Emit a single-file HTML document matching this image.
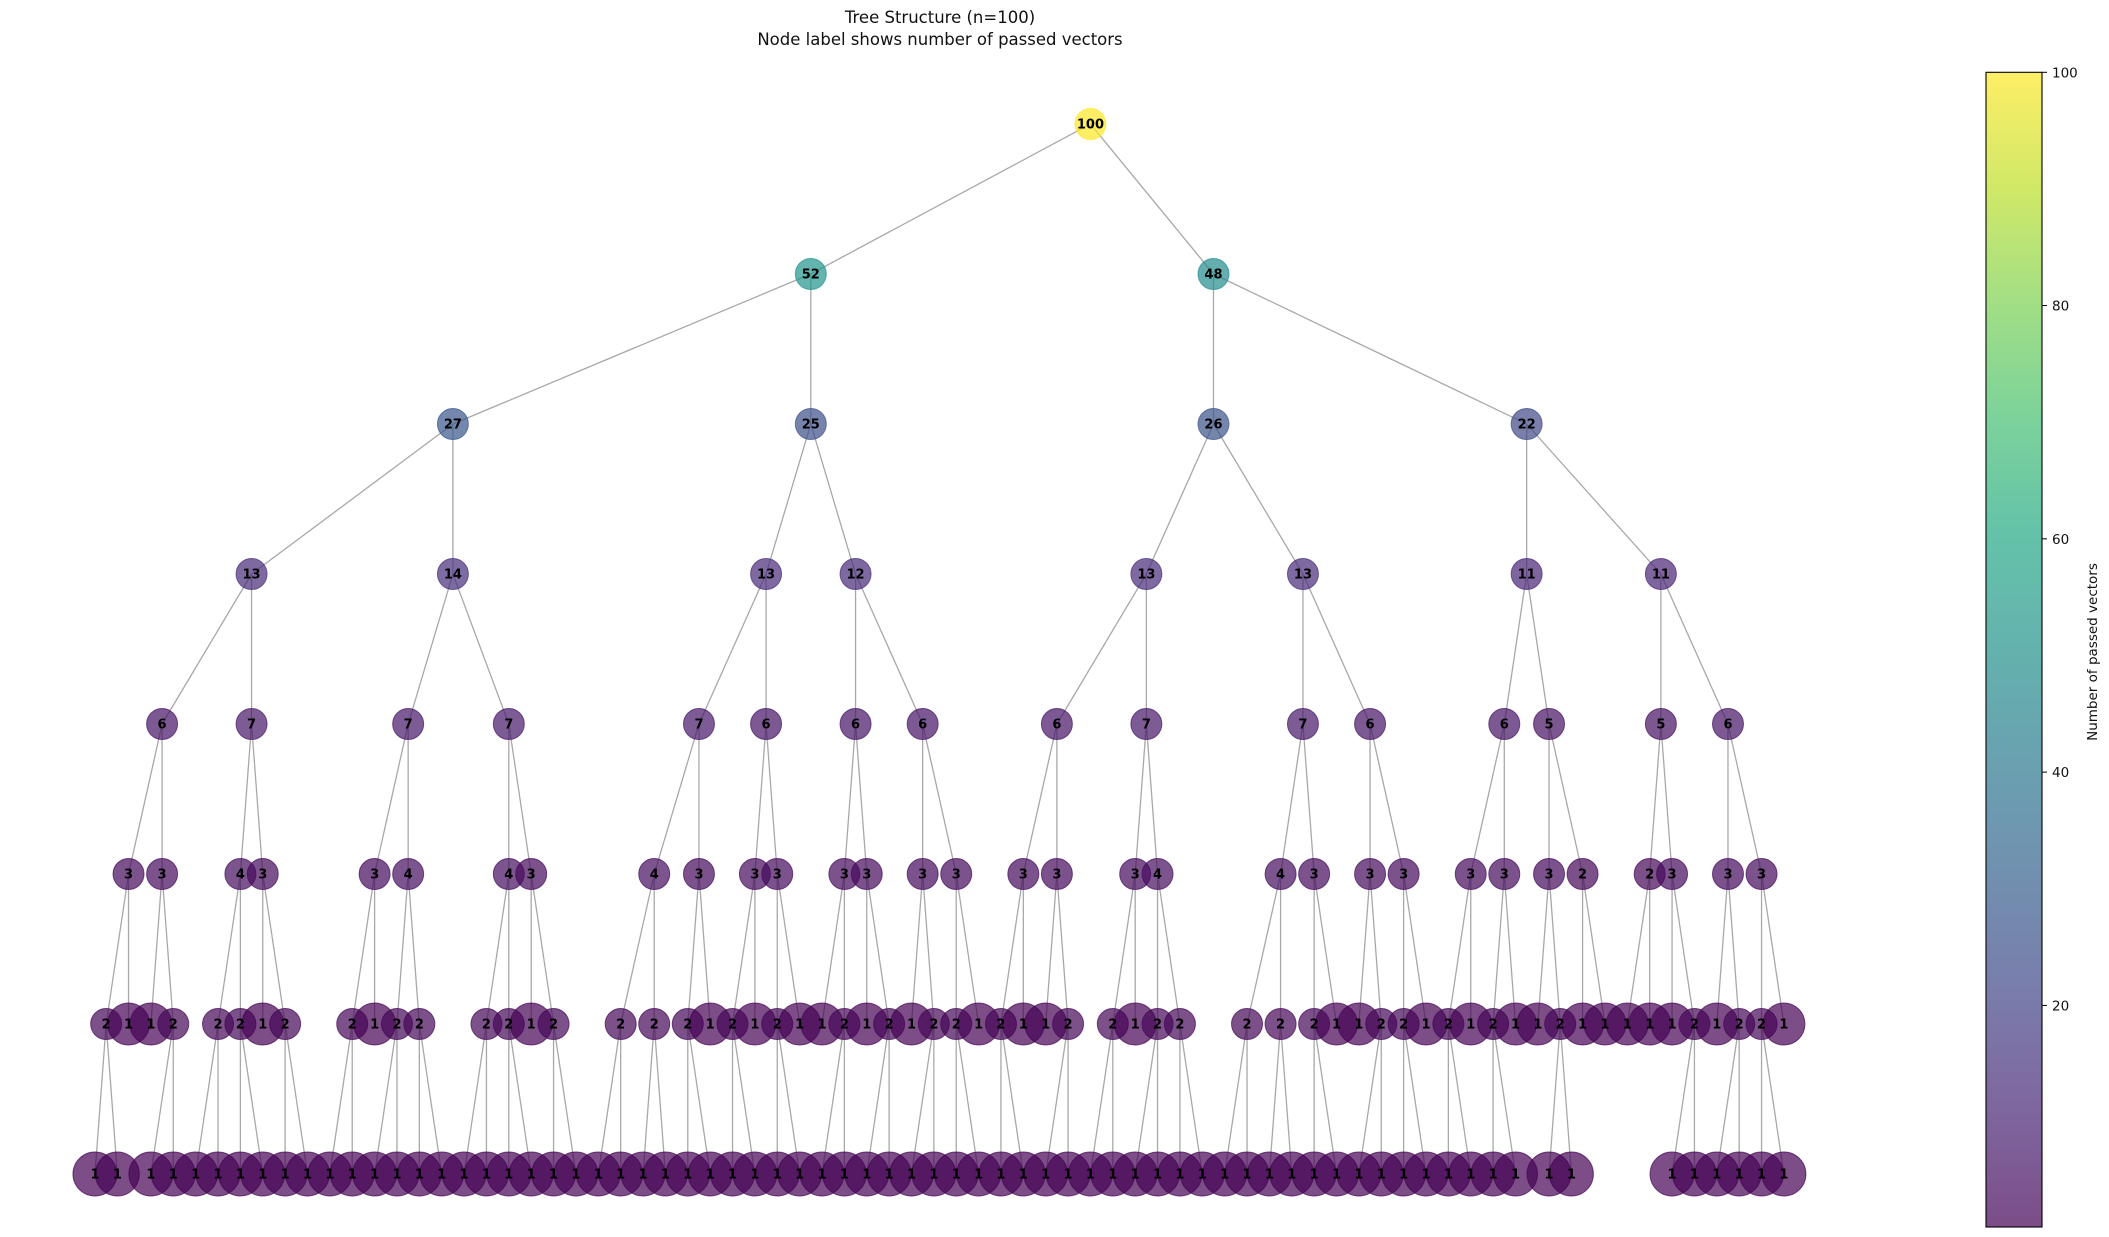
<!DOCTYPE html>
<html>
<head>
<meta charset="utf-8">
<style>
html,body{margin:0;padding:0;background:#fff;}
svg{display:block;}
text{font-family:"DejaVu Sans","Liberation Sans",sans-serif;}
</style>
</head>
<body>
<svg id="chart" width="2109" height="1237" viewBox="0 0 2109 1237" xmlns="http://www.w3.org/2000/svg">
  <defs>
    <linearGradient id="vir" x1="0" y1="1" x2="0" y2="0"></linearGradient>
  </defs>
  <text x="940" y="23" font-size="16.5" text-anchor="middle" fill="#111">Tree Structure (n=100)</text>
  <text x="940" y="45" font-size="16.5" text-anchor="middle" fill="#111">Node label shows number of passed vectors</text>
  <g id="edges"></g>
  <g id="nodes"></g>
  <g id="cbar"></g>
</svg>
<script>
// ---- data (per depth level) ----
const slots0 = [42];
const vals0 = [100];
const par0 = [-1];
const slots1 = [29.5, 47.5];
const vals1 = [52, 48];
const par1 = [0, 0];
const slots2 = [13.5, 29.5, 47.5, 61.5];
const vals2 = [27, 25, 26, 22];
const par2 = [0, 0, 1, 1];
const slots3 = [4.5, 13.5, 27.5, 31.5, 44.5, 51.5, 61.5, 67.5];
const vals3 = [13, 14, 13, 12, 13, 13, 11, 11];
const par3 = [0, 0, 1, 1, 2, 2, 3, 3];
const slots4 = [0.5, 4.5, 11.5, 16, 24.5, 27.5, 31.5, 34.5, 40.5, 44.5, 51.5, 54.5, 60.5, 62.5, 67.5, 70.5];
const vals4 = [6, 7, 7, 7, 7, 6, 6, 6, 6, 7, 7, 6, 6, 5, 5, 6];
const par4 = [0, 0, 1, 1, 2, 2, 3, 3, 4, 4, 5, 5, 6, 6, 7, 7];
const slots5 = [-1, 0.5, 4, 5, 10, 11.5, 16, 17, 22.5, 24.5, 27, 28, 31, 32, 34.5, 36, 39, 40.5, 44, 45, 50.5, 52, 54.5, 56, 59, 60.5, 62.5, 64, 67, 68, 70.5, 72];
const vals5 = [3, 3, 4, 3, 3, 4, 4, 3, 4, 3, 3, 3, 3, 3, 3, 3, 3, 3, 3, 4, 4, 3, 3, 3, 3, 3, 3, 2, 2, 3, 3, 3];
const par5 = [0,0,1,1,2,2,3,3,4,4,5,5,6,6,7,7,8,8,9,9,10,10,11,11,12,12,13,13,14,14,15,15];
const slots6 = [-2,-1, 0,1, 3,4, 5,6, 9,10, 11,12, 15,16, 17,18, 21,22.5, 24,25, 26,27, 28,29, 30,31, 32,33, 34,35, 36,37, 38,39, 40,41, 43,44, 45,46, 49,50.5, 52,53, 54,55, 56,57, 58,59, 60,61, 62,63, 64,65, 66,67, 68,69, 70,71, 72,73];
const vals6 = [2,1, 1,2, 2,2, 1,2, 2,1, 2,2, 2,2, 1,2, 2,2, 2,1, 2,1, 2,1, 1,2, 1,2, 1,2, 2,1, 2,1, 1,2, 2,1, 2,2, 2,2, 2,1, 1,2, 2,1, 2,1, 2,1, 1,2, 1,1, 1,1, 1,2, 1,2, 2,1];
const par6 = [0,0,1,1,2,2,3,3,4,4,5,5,6,6,7,7,8,8,9,9,10,10,11,11,12,12,13,13,14,14,15,15,16,16,17,17,18,18,19,19,20,20,21,21,22,22,23,23,24,24,25,25,26,26,27,27,28,28,29,29,30,30,31,31];
const slots7 = [-2.5,-1.5, 0,1,2,3,4,5,6,7,8,9,10,11,12,13,14,15,16,17,18,19,20,21,22,23,24,25,26,27,28,29,30,31,32,33,34,35,36,37,38,39,40,41,42,43,44,45,46,47,48,49,50,51,52,53,54,55,56,57,58,59,60,61, 62.5,63.5, 68,69,70,71,72,73];
const vals7 = new Array(72).fill(1);
const par7 = [0,0, 3,3, 4,4, 5,5, 7,7, 8,8, 10,10, 11,11, 12,12, 13,13, 15,15, 16,16, 17,17, 18,18, 20,20, 22,22, 25,25, 27,27, 29,29, 30,30, 32,32, 35,35, 36,36, 38,38, 39,39, 40,40, 41,41, 42,42, 45,45, 46,46, 48,48, 50,50, 53,53, 59,59, 61,61, 62,62];
const cbTicks = [20, 40, 60, 80, 100];

const levelSlots = [slots0, slots1, slots2, slots3, slots4, slots5, slots6, slots7];
const levelVals = [vals0, vals1, vals2, vals3, vals4, vals5, vals6, vals7];
const levelPar = [par0, par1, par2, par3, par4, par5, par6, par7];

// ---- scales ----
const VMIN = 1, VMAX = 100;
function xScale(s){ return 150.9 + 22.37 * s; }
function yScale(d){ return 124 + 150 * d; }
const vstops = ['#440154','#482475','#414487','#355f8d','#2a788e','#21918c','#22a884','#44bf70','#7ad151','#bddf26','#fde725'];
function hex(h){ return [parseInt(h.slice(1,3),16),parseInt(h.slice(3,5),16),parseInt(h.slice(5,7),16)]; }
function viridis(t){
  t = Math.max(0, Math.min(1, t));
  const p = t * 10, i = Math.min(9, Math.floor(p)), f = p - i;
  const a = hex(vstops[i]), b = hex(vstops[i+1]);
  return 'rgb(' + a.map((c,k)=>Math.round(c + (b[k]-c)*f)).join(',') + ')';
}
function colorOf(v){ return viridis((v - VMIN) / (VMAX - VMIN)); }

const NS = 'http://www.w3.org/2000/svg';
const edgesG = document.getElementById('edges');
const nodesG = document.getElementById('nodes');

// edges
for (let d = 1; d < 8; d++) {
  levelSlots[d].forEach((s, i) => {
    const p = levelPar[d][i];
    const ln = document.createElementNS(NS, 'line');
    ln.setAttribute('x1', xScale(levelSlots[d-1][p]));
    ln.setAttribute('y1', yScale(d-1));
    ln.setAttribute('x2', xScale(s));
    ln.setAttribute('y2', yScale(d));
    ln.setAttribute('stroke', '#a8a8a8');
    ln.setAttribute('stroke-width', '1.3');
    
    
    edgesG.appendChild(ln);
  });
}

// nodes
for (let d = 0; d < 8; d++) {
  levelSlots[d].forEach((s, i) => {
    const v = levelVals[d][i];
    const cx = xScale(s), cy = yScale(d);
    const r = v === 1 ? (d === 7 ? 22 : 21) : 15.5;
    const col = colorOf(v);
    const c = document.createElementNS(NS, 'circle');
    c.setAttribute('cx', cx);
    c.setAttribute('cy', cy);
    c.setAttribute('r', r);
    c.setAttribute('fill', col);
    c.setAttribute('fill-opacity', '0.7');
    c.setAttribute('stroke', col);
    c.setAttribute('stroke-opacity', '0.7');
    c.setAttribute('stroke-width', '1');
    
    
    nodesG.appendChild(c);
  });
}
// labels on top
for (let d = 0; d < 8; d++) {
  levelSlots[d].forEach((s, i) => {
    const t = document.createElementNS(NS, 'text');
    t.setAttribute('x', xScale(s));
    t.setAttribute('y', yScale(d) + 4.7);
    t.setAttribute('text-anchor', 'middle');
    t.setAttribute('font-size', '13');
    t.setAttribute('font-weight', 'bold');
    t.setAttribute('fill', '#000');
    t.textContent = levelVals[d][i];
    
    
    nodesG.appendChild(t);
  });
}

// colorbar
const grad = document.getElementById('vir');
for (let k = 0; k <= 20; k++) {
  const st = document.createElementNS(NS, 'stop');
  st.setAttribute('offset', (k/20));
  st.setAttribute('stop-color', viridis(k/20));
  grad.appendChild(st);
}
const cb = document.getElementById('cbar');
const CB_X = 1986, CB_W = 56, CB_TOP = 72.3, CB_BOT = 1227;
function cbY(v){ return CB_BOT - (v - VMIN) / (VMAX - VMIN) * (CB_BOT - CB_TOP); }
const rect = document.createElementNS(NS, 'rect');
rect.setAttribute('x', CB_X); rect.setAttribute('y', CB_TOP);
rect.setAttribute('width', CB_W); rect.setAttribute('height', CB_BOT - CB_TOP);
rect.setAttribute('fill', 'url(#vir)'); rect.setAttribute('fill-opacity', '0.7');


cb.appendChild(rect);
const frame = document.createElementNS(NS, 'rect');
frame.setAttribute('x', CB_X); frame.setAttribute('y', CB_TOP);
frame.setAttribute('width', CB_W); frame.setAttribute('height', CB_BOT - CB_TOP);
frame.setAttribute('fill', 'none'); frame.setAttribute('stroke', '#000'); frame.setAttribute('stroke-width', '1.1');


cb.appendChild(frame);
cbTicks.forEach(v => {
  const y = cbY(v);
  const tk = document.createElementNS(NS, 'line');
  tk.setAttribute('x1', CB_X + CB_W); tk.setAttribute('x2', CB_X + CB_W + 5);
  tk.setAttribute('y1', y); tk.setAttribute('y2', y);
  tk.setAttribute('stroke', '#000'); tk.setAttribute('stroke-width', '1');
  
  
  cb.appendChild(tk);
  const lb = document.createElementNS(NS, 'text');
  lb.setAttribute('x', CB_X + CB_W + 10); lb.setAttribute('y', y + 5);
  lb.setAttribute('font-size', '13.5'); lb.setAttribute('fill', '#111');
  lb.textContent = v;
  
  
  cb.appendChild(lb);
});
const cl = document.createElementNS(NS, 'text');
cl.setAttribute('x', 0); cl.setAttribute('y', 0);
cl.setAttribute('transform', 'translate(2097,652) rotate(-90)');
cl.setAttribute('text-anchor', 'middle');
cl.setAttribute('font-size', '13.5'); cl.setAttribute('fill', '#111');
cl.textContent = 'Number of passed vectors';


cb.appendChild(cl);
</script>
</body>
</html>
